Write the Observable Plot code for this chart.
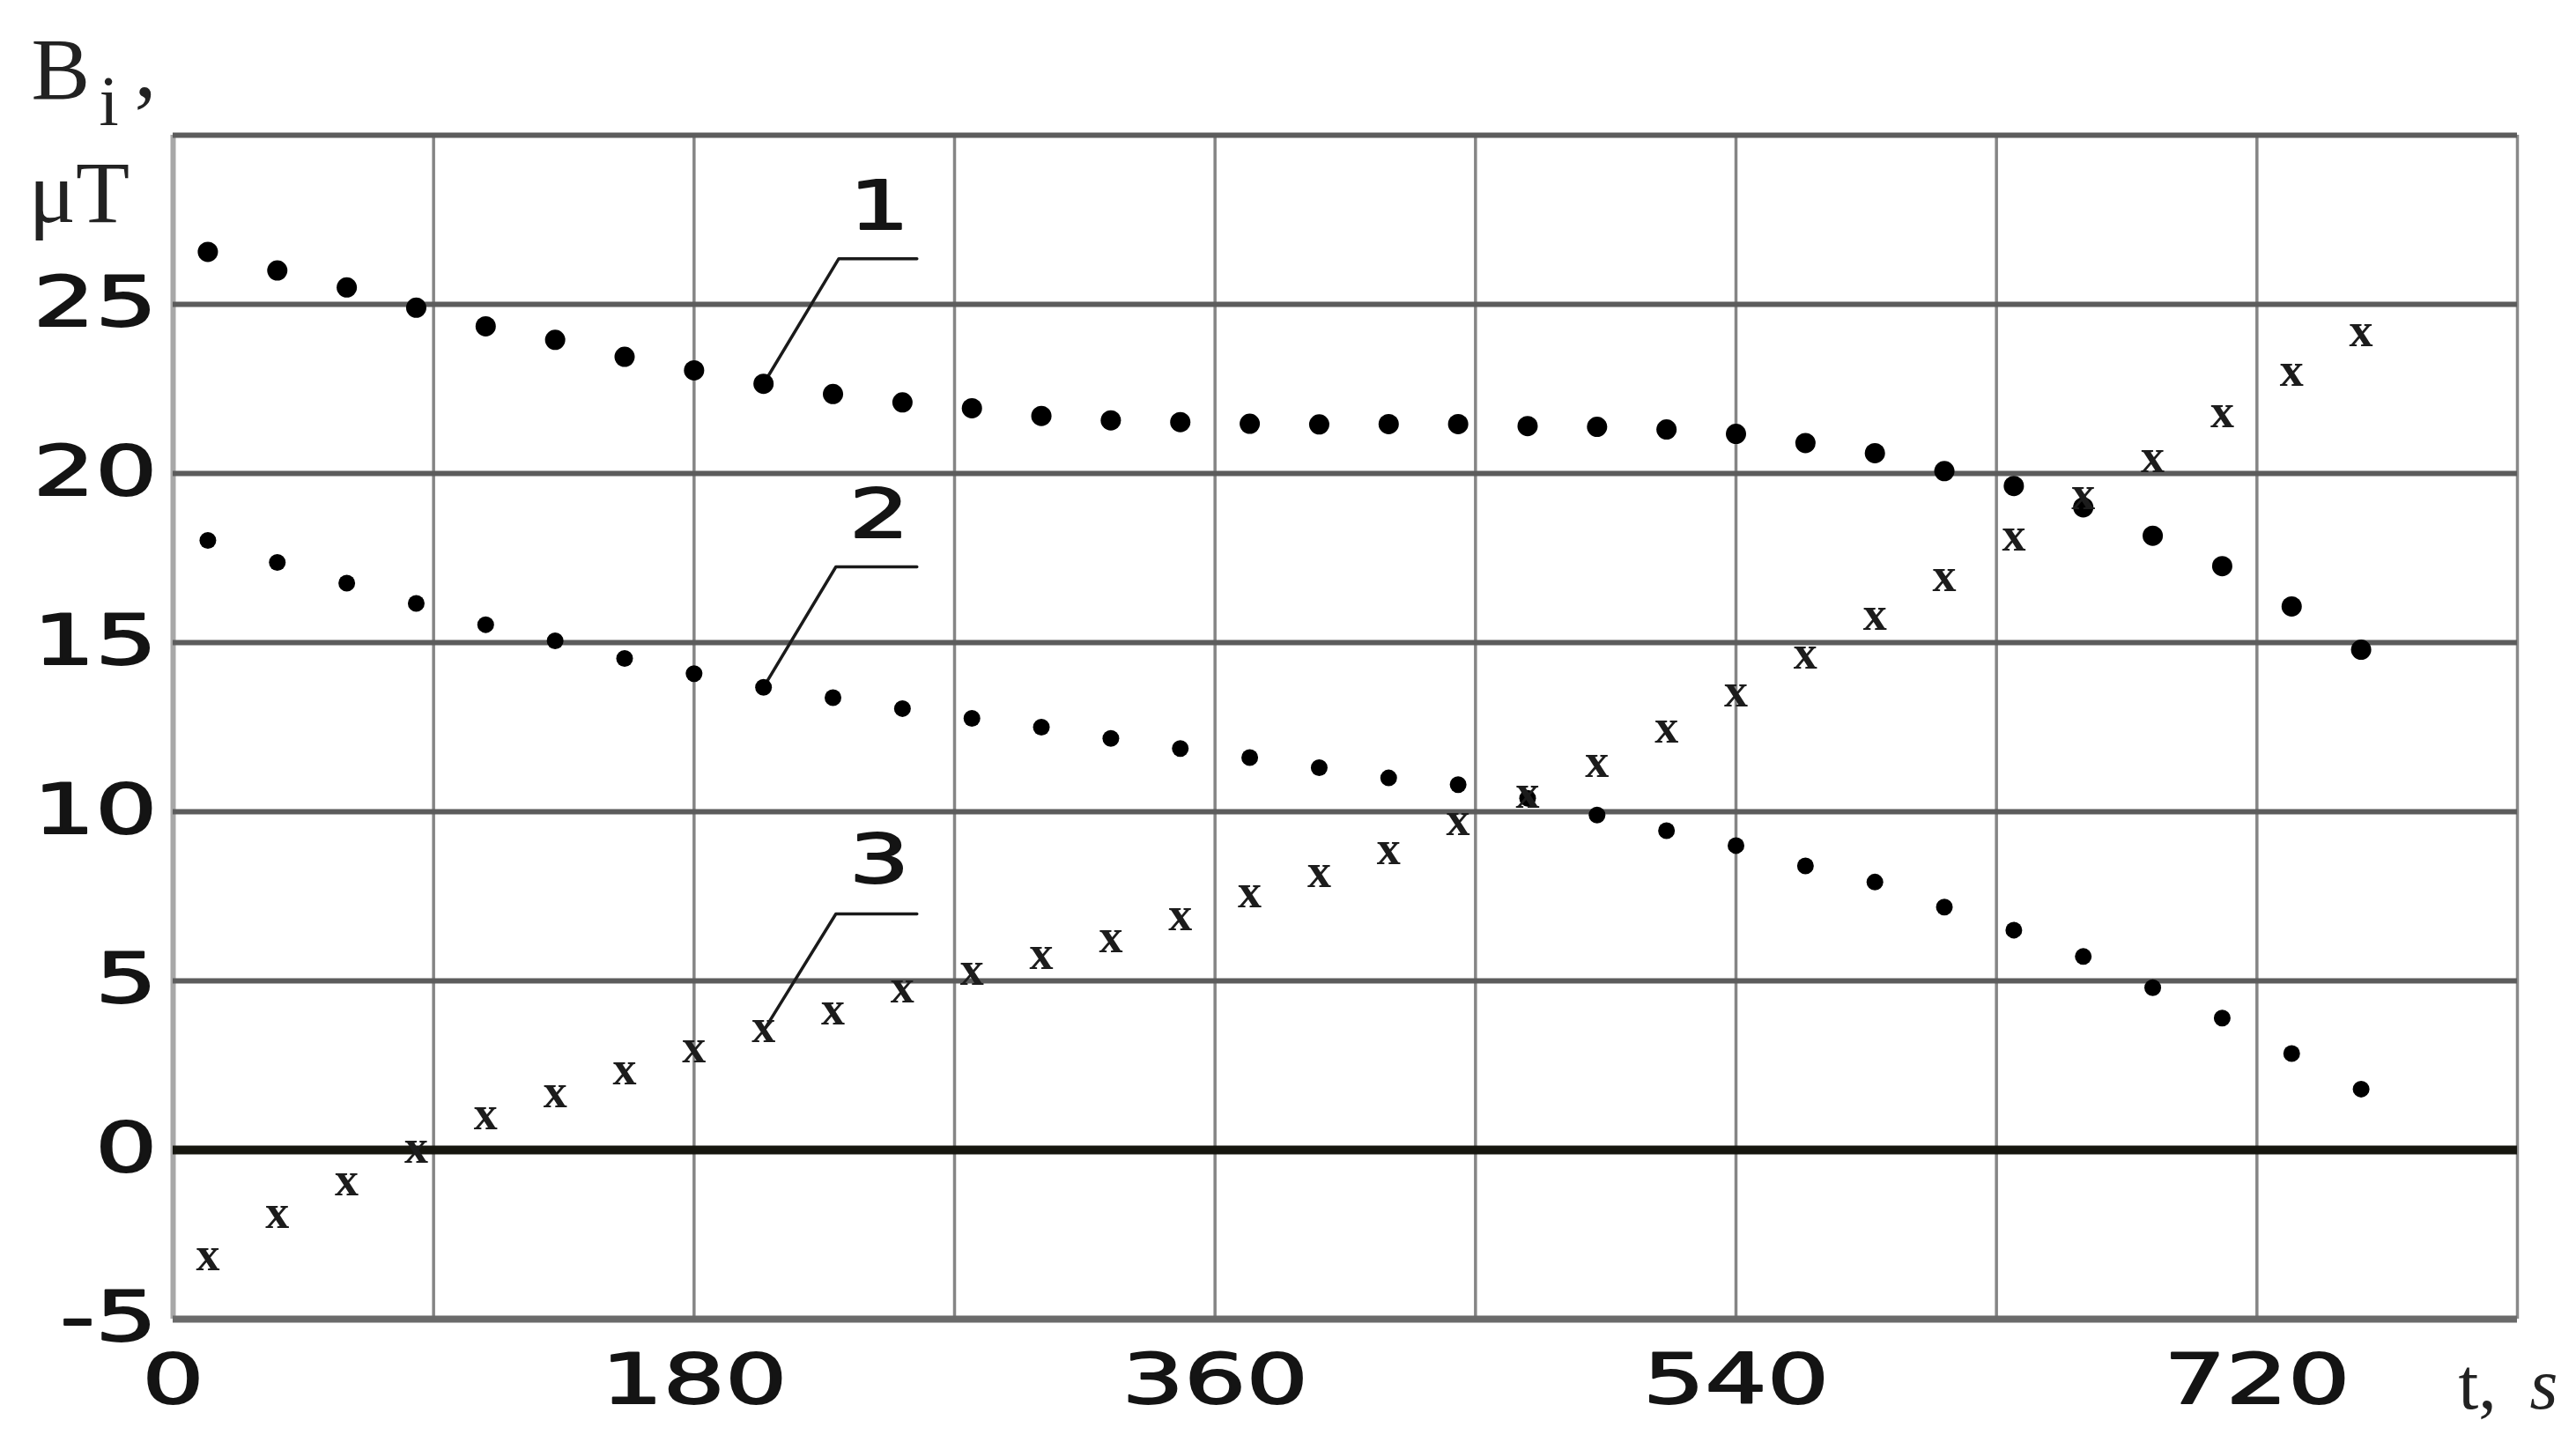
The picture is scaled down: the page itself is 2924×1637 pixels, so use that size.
<!DOCTYPE html>
<html>
<head>
<meta charset="utf-8">
<script src="https://cdn.jsdelivr.net/npm/d3@7"></script>
<script src="https://cdn.jsdelivr.net/npm/@observablehq/plot@0.6"></script>
<style>
  html, body { margin: 0; padding: 0; background: #ffffff; }
  #chart svg { display: block; }
</style>
</head>
<body>
<div id="chart"></div>
<script>
// ---- data ----
const times = [12, 36, 60, 84, 108, 132, 156, 180, 204, 228, 252, 276, 300, 324, 348, 372,
               396, 420, 444, 468, 492, 516, 540, 564, 588, 612, 636, 660, 684, 708, 732, 756];

const series1 = [26.55, 26.0, 25.5, 24.9, 24.35, 23.95, 23.45, 23.05, 22.65, 22.35, 22.1, 21.93,
                 21.7, 21.57, 21.52, 21.47, 21.45, 21.46, 21.46, 21.4, 21.38, 21.3, 21.17, 20.9,
                 20.6, 20.07, 19.63, 19.0, 18.16, 17.26, 16.07, 14.79];

const series2 = [18.02, 17.37, 16.76, 16.16, 15.53, 15.05, 14.53, 14.08, 13.68, 13.37, 13.05, 12.76,
                 12.5, 12.17, 11.87, 11.6, 11.3, 11.0, 10.8, 10.4, 9.9, 9.44, 9.0, 8.4,
                 7.92, 7.18, 6.5, 5.72, 4.8, 3.9, 2.85, 1.8];

const series3 = [-3.24, -1.98, -1.02, -0.05, 0.93, 1.59, 2.27, 2.91, 3.52, 4.02, 4.68, 5.2,
                 5.66, 6.17, 6.83, 7.5, 8.09, 8.78, 9.63, 10.43, 11.35, 12.37, 13.43, 14.54,
                 15.7, 16.84, 18.05, 19.26, 20.37, 21.7, 22.9, 24.08];

const xTicks = [0, 180, 360, 540, 720];
const xGrid = [90, 180, 270, 360, 450, 540, 630, 720];
const yTicks = [-5, 0, 5, 10, 15, 20, 25];
const yGrid = [5, 10, 15, 20, 25, 30];
const xDomain = [0, 810];
const yDomain = [-5, 30];

// curve labels 1, 2, 3 with leader lines (data units)
const labelNames = ["1", "2", "3"];
const labelT = [244, 244, 244];
const labelV = [27.86, 18.75, 8.54];
const leaderPointIndex = 8;          // the point each leader touches
const leaderElbowT = [230, 229, 229];
const leaderEndT = [257, 257, 257];
const leaderElbowV = [26.35, 17.24, 6.98];

const axisYName = ["B", "i", ","];
const axisYUnit = "μT";
const axisXName = ["t,", "s"];

// ---- build tables ----
const allSeries = [series1, series2, series3];
const rows = allSeries.map((s, k) => s.map((v, i) => ({t: times[i], v, s: k + 1})));

const leaderRows = [];
allSeries.forEach((s, k) => {
  leaderRows.push({t: times[leaderPointIndex], v: s[leaderPointIndex], s: k});
  leaderRows.push({t: leaderElbowT[k], v: leaderElbowV[k], s: k});
  leaderRows.push({t: leaderEndT[k], v: leaderElbowV[k], s: k});
});
const labelRows = labelNames.map((n, k) => ({n, t: labelT[k], v: labelV[k]}));

const tickFont = "DejaVu Sans";
const serif = "Liberation Serif";
const ink = "#141414";

const chart = Plot.plot({
  width: 2924,
  height: 1637,
  marginLeft: 196,
  marginRight: 67,
  marginTop: 153,
  marginBottom: 140,
  style: {background: "#ffffff", fontFamily: tickFont, fontSize: "78px", fontWeight: "normal", color: ink},
  x: {domain: xDomain, ticks: xTicks, tickFormat: d => String(d), tickSize: 0, tickPadding: 40, label: null},
  y: {domain: yDomain, ticks: yTicks, tickFormat: d => (d < 0 ? "-" + Math.abs(d) : String(d)), tickSize: 0, tickPadding: 18, label: null},
  marks: [
    Plot.ruleX(xGrid, {stroke: "#858585", strokeWidth: 3.5}),
    Plot.ruleX([xDomain[1]], {stroke: "#8a8a8a", strokeWidth: 3.5}),
    Plot.ruleX([xDomain[0]], {stroke: "#a8a8a8", strokeWidth: 6}),
    Plot.ruleY(yGrid, {stroke: "#5c5c5c", strokeWidth: 6}),
    Plot.ruleY([yDomain[0]], {stroke: "#6a6a6a", strokeWidth: 8}),
    Plot.ruleY([0], {stroke: "#16160f", strokeWidth: 10}),
    Plot.line(leaderRows, {x: "t", y: "v", z: "s", stroke: "#1a1a1a", strokeWidth: 3.5, curve: "linear"}),
    Plot.dot(rows[0], {x: "t", y: "v", r: 11.5, fill: "#000", stroke: null}),
    Plot.dot(rows[1], {x: "t", y: "v", r: 9.5, fill: "#000", stroke: null}),
    Plot.text(rows[2], {x: "t", y: "v", text: () => "x", fontFamily: serif, fontWeight: "bold", fontSize: 54, fill: "#1c1c1c", dy: -5}),
    Plot.text(labelRows, {x: "t", y: "v", text: "n", fontFamily: tickFont, fontWeight: "normal", fontSize: 76, fill: ink}),
    // axis names
    Plot.text([axisYName[0]], {frameAnchor: "top-left", lineAnchor: "middle", text: d => d, textAnchor: "start", dx: -161, dy: -74, fontFamily: serif, fontWeight: "normal", fontSize: 100, fill: "#222"}),
    Plot.text([axisYName[1]], {frameAnchor: "top-left", lineAnchor: "middle", text: d => d, textAnchor: "start", dx: -84, dy: -37, fontFamily: serif, fontWeight: "normal", fontSize: 80, fill: "#222"}),
    Plot.text([axisYName[2]], {frameAnchor: "top-left", lineAnchor: "middle", text: d => d, textAnchor: "start", dx: -44, dy: -77, fontFamily: serif, fontWeight: "normal", fontSize: 100, fill: "#222"}),
    Plot.text([axisYUnit], {frameAnchor: "top-left", lineAnchor: "middle", text: d => d, textAnchor: "start", dx: -164, dy: 66, fontFamily: serif, fontWeight: "normal", fontSize: 100, fill: "#222"}),
    Plot.text([axisXName[0]], {frameAnchor: "bottom-right", lineAnchor: "middle", text: d => d, textAnchor: "start", dx: -67, dy: 75, fontFamily: serif, fontWeight: "normal", fontSize: 82, fill: "#222"}),
    Plot.text([axisXName[1]], {frameAnchor: "bottom-right", lineAnchor: "middle", text: d => d, textAnchor: "start", dx: 14, dy: 75, fontFamily: serif, fontStyle: "italic", fontWeight: "normal", fontSize: 82, fill: "#222"})
  ]
});

document.getElementById("chart").appendChild(chart);

// widen the blocky digits horizontally (the reference uses an extended face)
function stretch(el, s) {
  const t = el.getAttribute("transform");
  if (t) {
    el.setAttribute("transform", t + ` scale(${s},1)`);
  } else {
    const x = +el.getAttribute("x") || 0, y = +el.getAttribute("y") || 0;
    el.removeAttribute("x"); el.removeAttribute("y");
    el.setAttribute("transform", `translate(${x},${y}) scale(${s},1)`);
  }
  el.setAttribute("stroke", ink);
  el.setAttribute("stroke-width", "1.8");
  el.setAttribute("stroke-linejoin", "round");
}
const svg = d3.select(chart);
svg.selectAll('g[aria-label="x-axis tick label"] text, g[aria-label="y-axis tick label"] text')
  .each(function () { stretch(this, 1.42); });
svg.selectAll("text")
  .filter(function () {
    const p = this.parentNode && this.parentNode.getAttribute("aria-label");
    return labelNames.includes(this.textContent) && !(p && p.includes("axis"));
  })
  .each(function () { stretch(this, 1.42); });
</script>
</body>
</html>
